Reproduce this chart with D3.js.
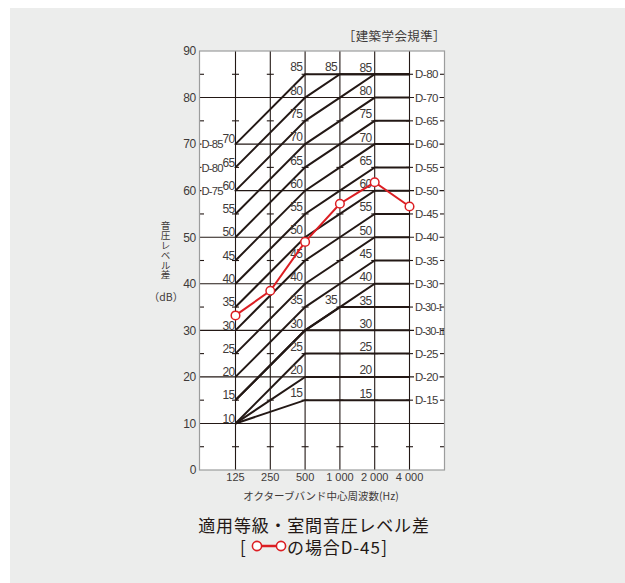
<!DOCTYPE html>
<html>
<head>
<meta charset="utf-8">
<script src="https://cdn.jsdelivr.net/npm/d3@7/dist/d3.min.js"></script>
<style>
  html, body { margin: 0; padding: 0; background: #ffffff; }
  svg { display: block; }
  .num { font-family: "Liberation Sans", Arial, sans-serif; fill: #3e3a39; }
  .jp { font-family: "Noto Sans CJK JP", sans-serif; fill: #3e3a39; }
</style>
</head>
<body>
<svg id="chart" width="625" height="583"></svg>
<script>
// Octave band centre frequencies and axis ticks
const freqs = ["125", "250", "500", "1 000", "2 000", "4 000"];
const yMajorTicks = [10, 20, 30, 40, 50, 60, 70, 80];
const yLabelTicks = [0, 10, 20, 30, 40, 50, 60, 70, 80, 90];
const yMinorTicks = [5, 15, 25, 35, 45, 55, 65, 75, 85];

// Measured room-to-room sound pressure level difference (dB)
const measured = [33.2, 38.5, 49, 57.2, 61.8, 56.6];

// Grading curves (AIJ D-curves); null = no vertex at that band
const dCurveNames = ["D-15", "D-20", "D-25", "D-30-Ⅱ", "D-30-Ⅰ", "D-30", "D-35", "D-40", "D-45", "D-50", "D-55", "D-60", "D-65", "D-70", "D-75", "D-80", "D-85"];
const dAt125  = [10, 10, 10, 15, 15, 15, 20, 25, 30, 35, 40, 45, 50, 55, 60, 65, 70];
const dAt250  = [null, null, null, null, null, null, null, null, null, null, null, null, null, null, null, null, null];
const dAt500  = [15, 20, 25, 30, 30, 30, 35, 40, 45, 50, 55, 60, 65, 70, 75, 80, 85];
const dAt1000 = [15, 20, 25, 30, 35, 35, 40, 45, 50, 55, 60, 65, 70, 75, 80, 85, 85];
const dAt2000 = [15, 20, 25, 30, 35, 40, 45, 50, 55, 60, 65, 70, 75, 80, 85, 85, 85];
const dAt4000 = [15, 20, 25, 30, 35, 40, 45, 50, 55, 60, 65, 70, 75, 80, 85, 85, 85];

// Curve names printed at the right-hand side and at the left-hand side
const rightLabelNames  = ["D-80", "D-70", "D-65", "D-60", "D-55", "D-50", "D-45", "D-40", "D-35", "D-30", "D-30-Ⅰ", "D-30-Ⅱ", "D-25", "D-20", "D-15"];
const rightLabelLevels = [85, 80, 75, 70, 65, 60, 55, 50, 45, 40, 35, 30, 25, 20, 15];
const leftLabelNames   = ["D-85", "D-80", "D-75"];
const leftLabelLevels  = [70, 65, 60];

// Level numbers written along the curves, per frequency column
const levels125  = [10, 15, 20, 25, 30, 35, 40, 45, 50, 55, 60, 65, 70];
const levels500  = [15, 20, 25, 30, 35, 40, 45, 50, 55, 60, 65, 70, 75, 80, 85];
const levels1000 = [35, 85];
const levels2000 = [15, 20, 25, 30, 35, 40, 45, 50, 55, 60, 65, 70, 75, 80, 85];

const svg = d3.select("#chart");
const INK = "#231815";
const RED = "#dc1e23";

// Background panel
svg.append("rect").attr("x", 10).attr("y", 8).attr("width", 615).attr("height", 575).attr("fill", "#ecedec");

const plot = { left: 199.5, right: 444.5, top: 51, bottom: 470 };
const x = d3.scalePoint().domain(freqs).range([235.5, 409.5]);
const y = d3.scaleLinear().domain([0, 90]).range([plot.bottom, plot.top]);

svg.append("rect")
  .attr("x", plot.left).attr("y", plot.top)
  .attr("width", plot.right - plot.left).attr("height", plot.bottom - plot.top)
  .attr("fill", "#ffffff");

const grid = svg.append("g").attr("stroke", INK).attr("stroke-width", 1.1).attr("fill", "none");

// Horizontal grid every 10 dB
grid.selectAll("line.h").data(yMajorTicks).join("line")
  .attr("x1", plot.left).attr("x2", plot.right)
  .attr("y1", d => y(d)).attr("y2", d => y(d));

// Vertical grid at each band
grid.selectAll("line.v").data(freqs).join("line")
  .attr("x1", d => x(d)).attr("x2", d => x(d))
  .attr("y1", plot.top).attr("y2", plot.bottom);

// Small crosses at the 5 dB steps on each band line
freqs.forEach(f => {
  grid.selectAll(null).data(yMinorTicks).join("line")
    .attr("x1", x(f) - 3.5).attr("x2", x(f) + 3.5)
    .attr("y1", d => y(d)).attr("y2", d => y(d));
});
// Inward ticks on the left and right frame
grid.selectAll(null).data(yMinorTicks).join("line")
  .attr("x1", plot.left).attr("x2", plot.left + 4.5)
  .attr("y1", d => y(d)).attr("y2", d => y(d));
grid.selectAll(null).data(yMinorTicks).join("line")
  .attr("x1", plot.right - 4.5).attr("x2", plot.right)
  .attr("y1", d => y(d)).attr("y2", d => y(d));

// Frame
svg.append("rect")
  .attr("x", plot.left).attr("y", plot.top)
  .attr("width", plot.right - plot.left).attr("height", plot.bottom - plot.top)
  .attr("fill", "none").attr("stroke", "#9c9d9d").attr("stroke-width", 1.2);

// Y axis labels
svg.append("g").selectAll("text").data(yLabelTicks).join("text")
  .attr("class", "num")
  .attr("x", 196).attr("y", d => y(d) + 4.3)
  .attr("text-anchor", "end").attr("font-size", 12).attr("letter-spacing", -0.3)
  .text(d => d);

// X axis labels
svg.append("g").selectAll("text").data(freqs).join("text")
  .attr("class", "num")
  .attr("x", d => x(d)).attr("y", 480.5)
  .attr("text-anchor", "middle").attr("font-size", 11)
  .text(d => d);

// D-curves
const columns = [dAt125, dAt250, dAt500, dAt1000, dAt2000, dAt4000];
const curves = dCurveNames.map((name, i) => ({
  name,
  pts: freqs.map((f, j) => [f, columns[j][i]]).filter(p => p[1] != null)
}));
const line = d3.line().x(d => x(d[0])).y(d => y(d[1]));
svg.append("g").selectAll("path").data(curves).join("path")
  .attr("d", d => line(d.pts))
  .attr("fill", "none").attr("stroke", INK).attr("stroke-width", 2)
  .attr("stroke-linejoin", "miter").attr("stroke-linecap", "butt");

// Curve names with a white backing over the grid
const rightG = svg.append("g");
rightLabelNames.forEach((n, i) => {
  const yy = y(rightLabelLevels[i]);
  const long = n.length > 4;
  rightG.append("rect").attr("x", 414).attr("y", yy - 5)
    .attr("width", long ? 26.5 : 25.5).attr("height", 10).attr("fill", "#fff");
  const t = rightG.append("text").attr("class", "num")
    .attr("x", 415).attr("y", yy + 4.2)
    .attr("font-size", long ? 11 : 11.5).attr("letter-spacing", long ? -0.8 : -0.5);
  if (long) {
    // roman numeral suffix set in a serif face
    t.append("tspan").text(n.slice(0, 5));
    t.append("tspan").attr("font-family", "'DejaVu Serif', 'Liberation Serif', serif")
      .attr("font-size", 9.5).attr("letter-spacing", -1).text(n.slice(5));
  } else {
    t.text(n);
  }
});
const leftG = svg.append("g");
leftLabelNames.forEach((n, i) => {
  const yy = y(leftLabelLevels[i]);
  leftG.append("rect").attr("x", 201.5).attr("y", yy - 5).attr("width", 33).attr("height", 10).attr("fill", "#fff");
  leftG.append("text").attr("class", "num")
    .attr("x", 201.5).attr("y", yy + 4.2)
    .attr("font-size", 11.3).attr("letter-spacing", -0.8)
    .text(n);
});

// Level numbers along the curves
function levelLabels(freq, vals, dx, dy) {
  svg.append("g").selectAll("text").data(vals).join("text")
    .attr("class", "num")
    .attr("x", x(freq) + dx).attr("y", d => y(d) + dy)
    .attr("text-anchor", "end").attr("font-size", 12).attr("letter-spacing", -0.6)
    .text(d => d);
}
levelLabels("125", levels125, -0.8, -0.8);
levelLabels("500", levels500, -2.8, -2.8);
levelLabels("1 000", levels1000, -2.8, -2.8);
levelLabels("2 000", levels2000, -3, -2.5);

// Measured series
const series = freqs.map((f, i) => [f, measured[i]]);
svg.append("path").attr("d", line(series))
  .attr("fill", "none").attr("stroke", RED).attr("stroke-width", 2);
svg.append("g").selectAll("circle").data(series).join("circle")
  .attr("cx", d => x(d[0])).attr("cy", d => y(d[1])).attr("r", 4.3)
  .attr("fill", "#fff").attr("stroke", RED).attr("stroke-width", 1.5);

// Axis titles and captions
svg.append("text").attr("class", "jp")
  .attr("x", 446).attr("y", 41).attr("text-anchor", "end").attr("font-size", 12.5)
  .attr("letter-spacing", 0.4)
  .text("［建築学会規準］");

// Vertical y-axis title
svg.append("text").attr("class", "jp")
  .attr("x", 165.5).attr("y", 220.5)
  .attr("font-size", 9.6).attr("letter-spacing", 0.3)
  .style("writing-mode", "vertical-rl")
  .text("音圧レベル差");
svg.append("text").attr("class", "jp")
  .attr("x", 166).attr("y", 301).attr("text-anchor", "middle").attr("font-size", 10.5)
  .text("（dB）");

svg.append("text").attr("class", "jp")
  .attr("x", 321).attr("y", 499.5).attr("text-anchor", "middle").attr("font-size", 10.5)
  .text("オクターブバンド中心周波数(Hz)");

svg.append("text").attr("class", "jp")
  .attr("x", 314).attr("y", 531.5).attr("text-anchor", "middle").attr("font-size", 17)
  .attr("letter-spacing", 0.8).style("fill", INK)
  .text("適用等級・室間音圧レベル差");

// Caption with legend swatch
const cap = svg.append("g");
cap.append("text").attr("class", "jp").attr("x", 240).attr("y", 553.5).attr("font-size", 17).style("fill", INK).text("[");
cap.append("line").attr("x1", 257).attr("x2", 281).attr("y1", 546).attr("y2", 546)
  .attr("stroke", RED).attr("stroke-width", 2.5);
[257, 281].forEach(cx => {
  cap.append("circle").attr("cx", cx).attr("cy", 546).attr("r", 4.6)
    .attr("fill", "#fff").attr("stroke", RED).attr("stroke-width", 1.6);
});
const capText = cap.append("text").attr("class", "jp").attr("x", 287).attr("y", 553.5)
  .attr("font-size", 17).attr("letter-spacing", 0.9).style("fill", INK).text("の場合D-45");
const capEnd = 287 + capText.node().getComputedTextLength();
cap.append("text").attr("class", "jp").attr("x", capEnd + 0.5).attr("y", 553.5).attr("font-size", 17).style("fill", INK).text("]");
</script>
</body>
</html>
